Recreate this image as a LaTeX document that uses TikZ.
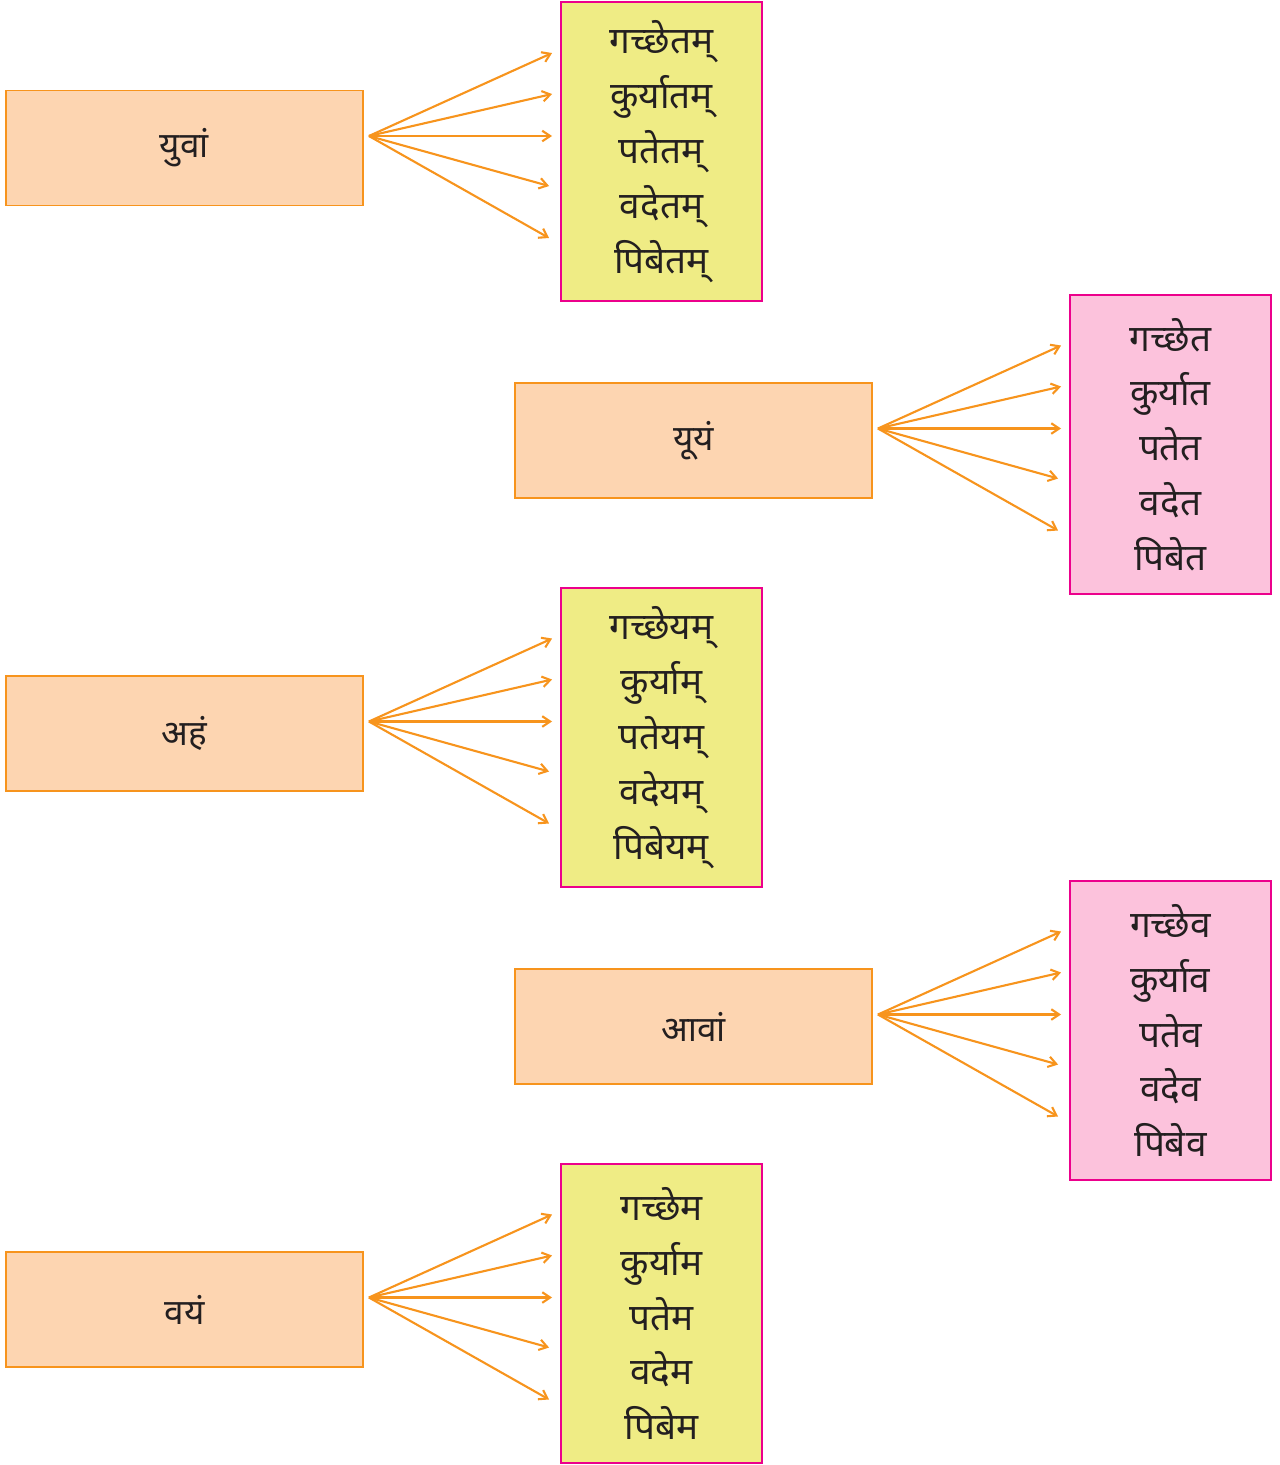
\documentclass[tikz,border=0pt]{standalone}
\usepackage{fontspec}
\newfontfamily\deva[Script=Devanagari]{Noto Sans}
\usepackage{tikz}
\usetikzlibrary{
  arrows.meta,
  positioning
}
\definecolor{PeachFill}{RGB}{253, 213, 177}
\definecolor{OrangeLine}{RGB}{247, 148, 29}
\definecolor{LimeFill}{RGB}{239, 236, 133}
\definecolor{MagentaLine}{RGB}{236, 0, 140}
\definecolor{PinkFill}{RGB}{252, 194, 220}
\definecolor{InkGray}{RGB}{35, 31, 32}
\tikzset{
    subjbox/.style={rectangle, draw=OrangeLine, fill=PeachFill, line width=1.1pt,
        minimum width=7.14cm, minimum height=2.3cm, text=InkGray,
        font=\deva\fontsize{20}{24}\selectfont},
    formbox/.style={rectangle, draw=MagentaLine, line width=1.1pt, align=center,
        minimum width=4.02cm, minimum height=5.98cm, text=InkGray,
        font=\deva\fontsize{21}{31.2}\selectfont},
    limebox/.style={formbox, fill=LimeFill},
    pinkbox/.style={formbox, fill=PinkFill},
    fanarrow/.style={draw=OrangeLine, line width=1.2pt, -{Straight Barb[length=4.5pt, width=6pt]}}
}
% five arrows from a subject box to its forms
\newcommand{\fanout}[2]{%
  \coordinate (#1src) at ([xshift=0.1cm, yshift=0.24cm]#1.east);
  \coordinate (#1aim) at (#2.west |- #1src);
  \foreach \dx/\dy in {0.16/1.66, 0.16/0.84, 0.16/0, 0.22/-1.0, 0.22/-2.04}
    \draw[fanarrow] (#1src) -- ([xshift=-\dx cm, yshift=\dy cm]#1aim);
}
\begin{document}
\begin{tikzpicture}[x=0.02cm, y=-0.02cm]
    \useasboundingbox (0,0) rectangle (1279,1465);
    % subjects
    \node[subjbox] (yuvam) at (184.5,148) {युवां};
    \node[subjbox] (yuyam) at (693.5,440.5) {यूयं};
    \node[subjbox] (aham) at (184.5,733.5) {अहं};
    \node[subjbox] (avam) at (693.5,1026.5) {आवां};
    \node[subjbox] (vayam) at (184.5,1309.5) {वयं};
    % forms
    \node[limebox] (yuvamforms) at (661.5,151.5) {गच्छेतम्\\कुर्यातम्\\पतेतम्\\वदेतम्\\पिबेतम्};
    \node[pinkbox] (yuyamforms) at (1170.5,444.5) {गच्छेत\\कुर्यात\\पतेत\\वदेत\\पिबेत};
    \node[limebox] (ahamforms) at (661.5,737.5) {गच्छेयम्\\कुर्याम्\\पतेयम्\\वदेयम्\\पिबेयम्};
    \node[pinkbox] (avamforms) at (1170.5,1030.5) {गच्छेव\\कुर्याव\\पतेव\\वदेव\\पिबेव};
    \node[limebox] (vayamforms) at (661.5,1313.5) {गच्छेम\\कुर्याम\\पतेम\\वदेम\\पिबेम};
    % arrows
    \fanout{yuvam}{yuvamforms}
    \fanout{yuyam}{yuyamforms}
    \fanout{aham}{ahamforms}
    \fanout{avam}{avamforms}
    \fanout{vayam}{vayamforms}
\end{tikzpicture}
\end{document}
